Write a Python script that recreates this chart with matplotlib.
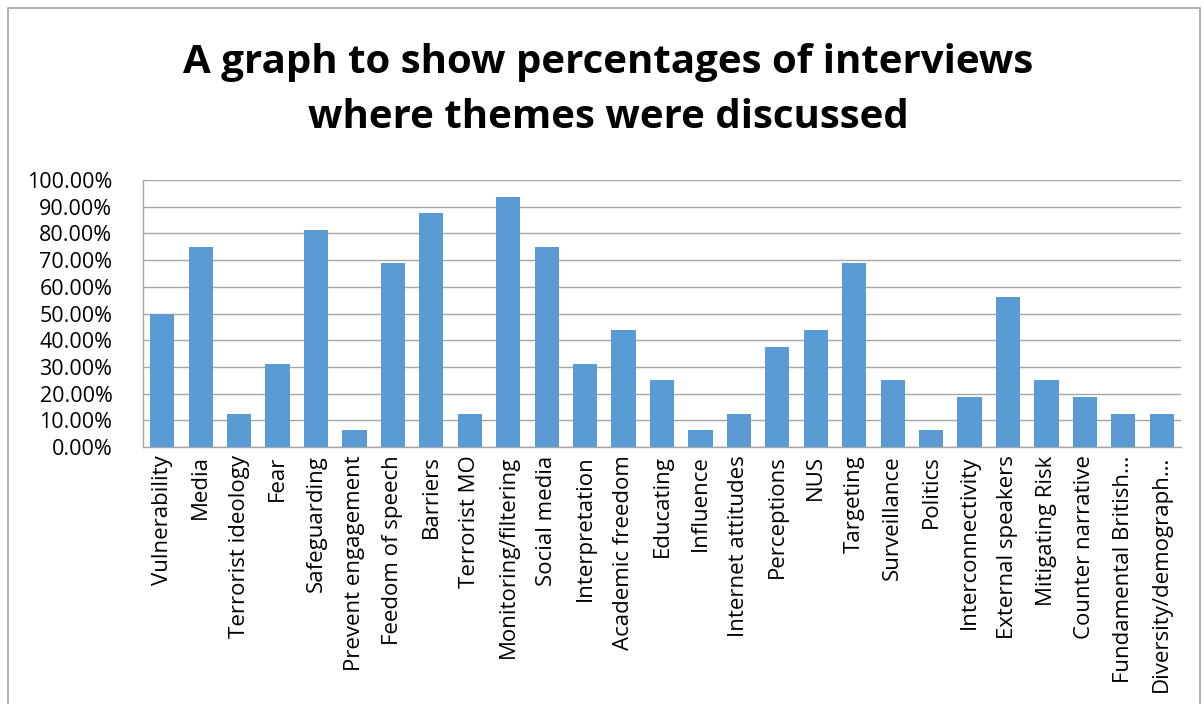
import matplotlib
matplotlib.use("Agg")
import matplotlib.pyplot as plt
from matplotlib.patches import Rectangle
from matplotlib.ticker import PercentFormatter, MultipleLocator

categories = ["Vulnerability", "Media", "Terrorist ideology", "Fear", "Safeguarding",
              "Prevent engagement", "Feedom of speech", "Barriers", "Terrorist MO",
              "Monitoring/filtering", "Social media", "Interpretation", "Academic freedom",
              "Educating", "Influence", "Internet attitudes", "Perceptions", "NUS",
              "Targeting", "Surveillance", "Politics", "Interconnectivity",
              "External speakers", "Mitigating Risk", "Counter narrative",
              "Fundamental British…", "Diversity/demograph…"]
values = [50.0, 75.0, 12.5, 31.25, 81.25, 6.25, 68.75, 87.5, 12.5, 93.75, 75.0, 31.25,
          43.75, 25.0, 6.25, 12.5, 37.5, 43.75, 68.75, 25.0, 6.25, 18.75, 56.25, 25.0,
          18.75, 12.5, 12.5]
title = "A graph to show percentages of interviews\nwhere themes were discussed"

plt.rcParams['font.family'] = ['Open Sans', 'DejaVu Sans']

fig = plt.figure(figsize=(12.04, 7.04), dpi=100)
fig.patches.append(Rectangle((8/1204, -0.01), (1200-8)/1204, 1 - 8/704 + 0.01,
                             transform=fig.transFigure, fill=False,
                             edgecolor="#A6A6A6", linewidth=1.2))

ax = fig.add_axes([143/1204, 1 - 447/704, (1181-143)/1204, (447-180)/704])
x = range(len(categories))
ax.bar(x, values, width=0.63, color="#5B9BD5", zorder=3)
ax.set_xlim(-0.5, len(categories) - 0.5)
ax.set_ylim(0, 100)
ax.yaxis.set_major_locator(MultipleLocator(10))
ax.yaxis.set_major_formatter(PercentFormatter(decimals=2))
ax.grid(axis='y', color="#A6A6A6", linewidth=1, zorder=0)
for s in ['top', 'right']:
    ax.spines[s].set_visible(False)
for s in ['left', 'bottom']:
    ax.spines[s].set_color("#A6A6A6")
    ax.spines[s].set_linewidth(1)
ax.set_xticks(list(x))
ax.set_xticklabels(categories, rotation=90, fontsize=16)
ax.tick_params(axis='y', labelsize=15.5, length=0, pad=22)
ax.tick_params(axis='x', length=0, pad=6)

fig.text(0.505, 0.872, title, ha='center', va='center', fontsize=29,
         fontweight='bold', linespacing=1.55)

fig.savefig("out.png", dpi=100)
